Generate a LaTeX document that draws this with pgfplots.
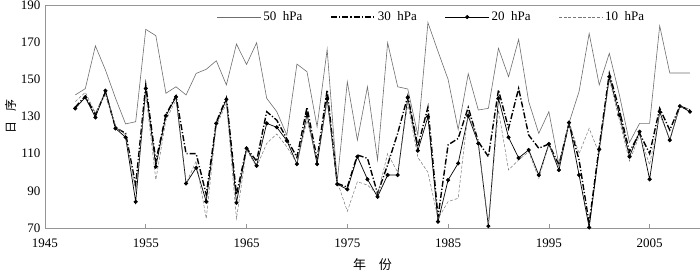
\documentclass[border=0pt]{standalone}
\usepackage{pgfplots}
\pgfplotsset{compat=1.18}
\usepackage{pgfplotstable}
\usepackage{fontspec}
\setmainfont{Liberation Serif}
\newfontfamily\cjk{Noto Sans CJK SC}
\definecolor{axisgray}{RGB}{150,150,150}
\definecolor{line50}{RGB}{110,110,110}
\definecolor{line10}{RGB}{120,120,120}
\pgfplotstableread{
year p50 p30 p20 p10
1948 141.6 135 134.4 138
1949 145 141 140.3 143
1950 168 131 129.5 132
1951 155 143 143.9 142
1952 139.8 124 123.6 125
1953 126 121 118.8 120
1954 127.2 93 84.1 90
1955 176.9 147 145.1 142
1956 173.5 106 103 96
1957 142.5 131 130.4 128
1958 146 141 140.6 139
1959 141.6 110 94 94
1960 153.2 110 102.4 106
1961 155.4 88 84.2 75
1962 160 127 126.3 125
1963 147 140 139.2 137
1964 169 88 83.6 75
1965 158 113 112.9 112
1966 169.7 106 103.5 103
1967 139.8 132.6 126.3 115.5
1968 132.6 128 124.2 120.6
1969 120 118 117 113.7
1970 158.2 108 104.4 104.8
1971 154.1 135 131.3 128
1972 124.5 107 104.4 106.6
1973 166.1 144.3 139.8 138
1974 95 94 93.6 95
1975 148.7 92 90.8 79
1976 117.3 109.3 108.4 94.9
1977 146 107.5 96.2 93.1
1978 106.6 88.6 86.8 88
1979 169.7 104 98.5 110
1980 146 121 98.5 100
1981 144.8 141 140.3 137
1982 120 114 111.6 108
1983 180.5 135 129.9 100
1984 165 76 73.4 75
1985 150 114.7 95.8 84.2
1986 123 118.2 104.8 86
1987 153 134.9 130.3 132.6
1988 133.5 116.4 115.5 115.5
1989 134.4 108.4 71 72
1990 166.7 144.3 139.8 133.5
1991 151.4 123.6 118.8 101.2
1992 171.5 145.1 107.7 106.6
1993 138 120 112 111
1994 120.9 112.9 98.5 96.7
1995 132.6 115.2 115.2 114.7
1996 104 103.9 101.2 103
1997 126.5 126.3 126.7 127.2
1998 143.5 106.6 98.5 110
1999 174.7 72.5 70.3 123.6
2000 147 113.8 112.3 110
2001 164 153.2 151.4 150
2002 141.6 133.5 130.8 128
2003 116 111 108.4 106
2004 126.3 121 121.8 120
2005 126.3 110 96.2 104
2006 178.8 134.4 132.6 131
2007 153.4 122.7 117.3 118
2008 153.4 135.6 135.6 135
2009 153.4 133.5 132.6 134
}\datatable
\begin{document}
\begin{tikzpicture}
\begin{axis}[
  scale only axis,
  width=655pt, height=223pt,
  xmin=1945, xmax=2010, ymin=70, ymax=190,
  xtick={1945,1955,...,2005},
  ytick={70,90,...,190},
  axis line style={axisgray, line width=0.8pt},
  tick style={axisgray, line width=0.6pt},
  xtick pos=bottom, ytick pos=left,
  major tick length=4pt,
  ytick style={draw=none},
  /pgf/number format/assume math mode=true,
  /pgf/number format/set thousands separator={},
  tick label style={font=\fontsize{13}{14}\selectfont},
  xticklabel style={yshift=-7pt},
  yticklabel style={xshift=-1pt},
  xlabel={\cjk 年\hspace{1em}份},
  ylabel={\cjk 日\hspace{0.8em}序},
  xlabel style={font=\fontsize{13}{14}\selectfont, yshift=-4pt},
  ylabel style={font=\fontsize{12}{13}\selectfont, yshift=-2pt},
  legend columns=4,
  legend style={draw=none, fill=none, at={(0.59,0.946)}, anchor=center,
    font=\fontsize{13}{14}\selectfont,
    /tikz/every odd column/.append style={column sep=0pt},
    /tikz/every even column/.append style={column sep=26pt},
    inner sep=0pt},
  legend image code/.code={\draw[mark repeat=2,mark phase=2,#1] plot coordinates {(0pt,0pt) (22pt,0pt) (44pt,0pt)};},
]
\addplot[line50, line width=0.6pt] table[x=year,y=p50] {\datatable};
\addlegendentry{50\hspace{0.5em}hPa}
\addplot[black, line width=1.4pt, dash pattern=on 6pt off 2pt on 1.2pt off 2pt] table[x=year,y=p30] {\datatable};
\addlegendentry{30\hspace{0.5em}hPa}
\addplot[black, line width=0.7pt, mark=*, mark size=1.7pt, mark options={solid}] table[x=year,y=p20] {\datatable};
\addlegendentry{20\hspace{0.5em}hPa}
\addplot[line10, line width=0.5pt, dash pattern=on 3pt off 1.8pt] table[x=year,y=p10] {\datatable};
\addlegendentry{10\hspace{0.5em}hPa}
\end{axis}
\pgfresetboundingbox
\path ([shift={(-45pt,-43pt)}]current axis.south west) rectangle ([shift={(0pt,5pt)}]current axis.north east);
\end{tikzpicture}
\end{document}
